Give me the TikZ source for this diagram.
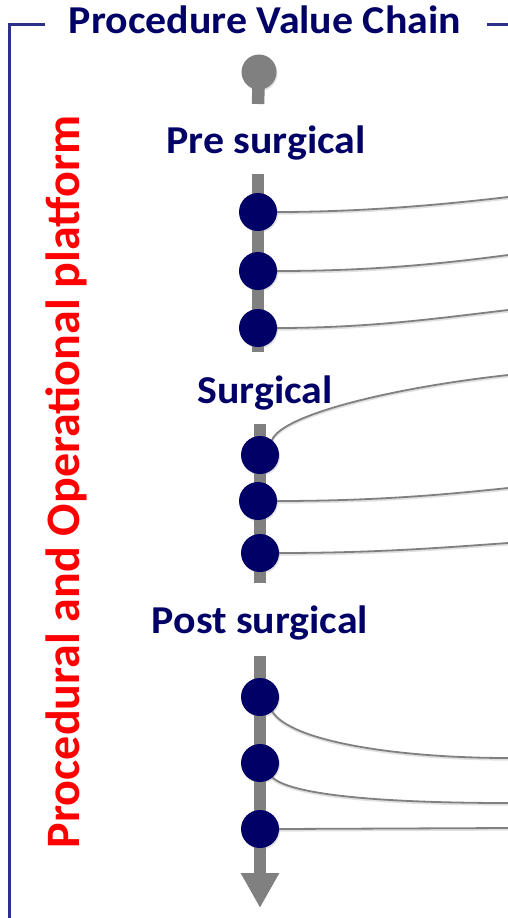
\documentclass[tikz,border=0pt]{standalone}
\usepackage{fontspec}
\setmainfont{Carlito}
\usetikzlibrary{arrows.meta,shadows}
\definecolor{navy}{RGB}{0,0,102}
\definecolor{framec}{RGB}{46,49,140}
\definecolor{axisgray}{RGB}{128,128,128}
\definecolor{redc}{RGB}{255,0,0}
\tikzset{
  dot/.style={circle,fill=navy,minimum size=38pt,inner sep=0pt,
    drop shadow={shadow xshift=1pt,shadow yshift=-1.5pt,opacity=0.25}},
  link/.style={draw=axisgray,line width=1.8pt,
    preaction={draw=black!12,line width=2pt,transform canvas={yshift=-1.6pt}}},
  axis/.style={draw=axisgray,line width=12.5pt},
  navytext/.style={text=navy,font=\bfseries\fontsize{39.5}{44}\selectfont,anchor=base,inner sep=0pt,xscale=1.06},
}
\begin{document}
\begin{tikzpicture}[x=1pt,y=-1pt]
\useasboundingbox (0,0) rectangle (508,918);
% frame
\draw[framec,line width=3pt] (9,918) -- (9,24) -- (45,24);
\draw[framec,line width=3pt] (487,24) -- (508,24);
\node[navytext] (title) at (265,33) {Procedure Value Chain};
% side label
\node[text=redc,font=\bfseries\fontsize{48}{54}\selectfont,rotate=90,anchor=base,inner sep=0pt] (side) at (79,482) {Procedural and Operational platform};
% axis
\node[circle,fill=axisgray,minimum size=35pt,inner sep=0pt,
  drop shadow={shadow xshift=1pt,shadow yshift=-1.5pt,opacity=0.25}] (start) at (259,72) {};
\draw[axis] (start.center) -- (258,104);
\draw[axis] (258,174) -- (258,352);
\draw[axis] (260,424) -- (260,583);
\draw[axis,-{Triangle[width=36pt,length=35pt]}] (260,656) -- (260,908);
% phase labels
\node[navytext] (pre) at (266,153) {Pre surgical};
\node[navytext] (sur) at (265,403) {Surgical};
\node[navytext] (post) at (260,633) {Post surgical};
% right ends
\coordinate (e1) at (508,197);
\coordinate (e2) at (508,255);
\coordinate (e3) at (508,310);
\coordinate (e4) at (508,375);
\coordinate (e5) at (508,488);
\coordinate (e6) at (508,543);
\coordinate (e7) at (508,758);
\coordinate (e8) at (508,803);
\coordinate (e9) at (508,828);
% dot centres
\coordinate (c1) at (258,212);
\coordinate (c2) at (258,271);
\coordinate (c3) at (258,328);
\coordinate (c4) at (260,455);
\coordinate (c5) at (258,501);
\coordinate (c6) at (260,553);
\coordinate (c7) at (260,697);
\coordinate (c8) at (260,763);
\coordinate (c9) at (260,829);
% links (drawn before dots)
\draw[link] (c1) -- (277,212) .. controls (360,212) and (440,205) .. (e1);
\draw[link] (c2) -- (277,271) .. controls (370,271) and (440,264) .. (e2);
\draw[link] (c3) -- (277,328) .. controls (370,328) and (440,318) .. (e3);
\draw[link] (c4) -- (272,440) .. controls (282,415) and (390,388) .. (e4);
\draw[link] (c5) -- (277,501) .. controls (380,501) and (450,494) .. (e5);
\draw[link] (c6) -- (279,553) .. controls (380,553) and (450,547) .. (e6);
\draw[link] (c7) -- (272,711) .. controls (290,742) and (400,758) .. (e7);
\draw[link] (c8) -- (272,777) .. controls (292,797) and (400,803) .. (e8);
\draw[link] (c9) -- (279,829) -- (e9);
% dots
\node[dot] (p1) at (c1) {};
\node[dot] (p2) at (c2) {};
\node[dot] (p3) at (c3) {};
\node[dot] (s1) at (c4) {};
\node[dot] (s2) at (c5) {};
\node[dot] (s3) at (c6) {};
\node[dot] (q1) at (c7) {};
\node[dot] (q2) at (c8) {};
\node[dot] (q3) at (c9) {};
\end{tikzpicture}
\end{document}
